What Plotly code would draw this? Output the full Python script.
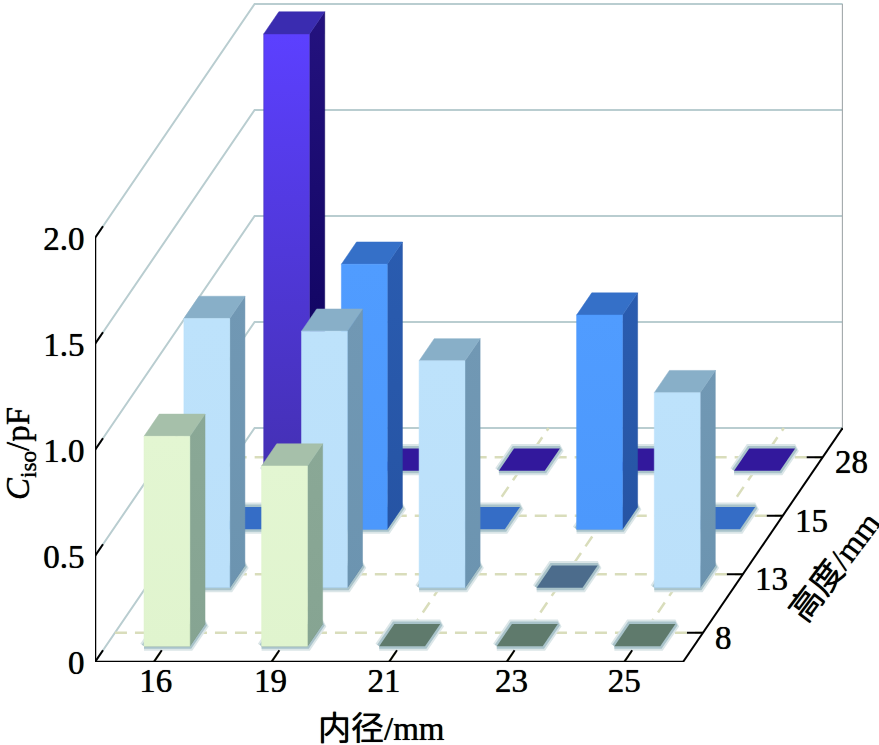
import plotly.graph_objects as go

# ---- data -------------------------------------------------------------
diameters = ["16", "19", "21", "23", "25"]        # 内径/mm
heights = ["8", "13", "15", "28"]                 # 高度/mm (front to back)
c_h8 = [0.99, 0.85, 0.0, 0.0, 0.0]
c_h13 = [1.27, 1.21, 1.07, 0.0, 0.92]
c_h15 = [0.0, 1.25, 0.0, 1.01, 0.0]
c_h28 = [2.06, 0.0, 0.0, 0.0, 0.0]
rows = [c_h8, c_h13, c_h15, c_h28]
y_ticks = [0, 0.5, 1.0, 1.5, 2.0]
y_labels = ["0", "0.5", "1.0", "1.5", "2.0"]

# ---- styles per row: front gradient, side gradient, top, flat ----------
styles = [
    dict(front=("#e0f4ce", "#e3f6d2"), side=("#86a492", "#8aa896"), top="#a6c0aa", flat="#5f7a6c"),
    dict(front=("#bbe0fa", "#bde2fb"), side=("#6c94b0", "#7198b4"), top="#88afc8", flat="#4c6c8c"),
    dict(front=("#4c98fc", "#509cff"), side=("#2654a4", "#2a5cb0"), top="#3570c8", flat="#356dc6"),
    dict(front=("#4430b4", "#5c40ff"), side=("#0a0058", "#24127f"), top="#3a2cb0", flat="#32189c"),
]

# ---- oblique projection (data units of the 2D axes) --------------------
PX_C, PX_V = 117.6, 212.0
DX, DY = 39.9 / PX_C, 58.5 / PX_V
BW, BD = 0.39, 0.38            # bar width and depth fractions
SHIFT_C, SHIFT_D = 0.02, -0.04
VMAX = 2.0
GRID = "#b9cdd0"
DASH = "#d9ddbb"
HALO = "#a9c3ca"
HALO2 = "#dbe6e8"
FONT = "Liberation Serif, Noto Sans CJK SC, serif"
SHADOW = "0 0 0.7px #000"
BLACK = dict(family=FONT, size=33, color="#000", shadow=SHADOW)
W, H, L, R_EDGE, B_EDGE = 879, 745, 95, 843, 662


def P(c, d, v=0.0):
    return c + d * DX, v + d * DY


fig = go.Figure()


def line(pts, color, width, dash=None):
    fig.add_trace(go.Scatter(x=[p[0] for p in pts], y=[p[1] for p in pts], mode="lines",
                             line=dict(color=color, width=width, dash=dash),
                             hoverinfo="skip", showlegend=False, cliponaxis=False))


def poly(pts, color=None, grad=None, lw=0.0, lc=None):
    xs = [p[0] for p in pts] + [pts[0][0]]
    ys = [p[1] for p in pts] + [pts[0][1]]
    kw = dict(fillcolor=color) if color else dict(
        fillgradient=dict(type="vertical", colorscale=[[0, grad[0]], [1, grad[1]]]))
    fig.add_trace(go.Scatter(x=xs, y=ys, mode="lines", fill="toself",
                             line=dict(width=lw, color=lc or color or grad[0]),
                             hoverinfo="skip", showlegend=False, cliponaxis=False, **kw))


# walls
for v in y_ticks:
    line([P(0, 0, v), P(0, 4, v), P(5, 4, v)], GRID, 2)
line([P(5, 4, 0), P(5, 4, VMAX)], "#a6acae", 1.5)

# floor dashed grid
for d in range(len(heights)):
    line([P(0, d + 0.5), P(5, d + 0.5)], DASH, 2.5, "12px,8px")
for c in range(len(diameters)):
    line([P(c + 0.5, 0), P(c + 0.5, 4)], DASH, 2.5, "12px,8px")

# bars, back row first
for d in reversed(range(len(heights))):
    st = styles[d]
    for c in range(len(diameters)):
        v = rows[d][c]
        c0 = c + 0.5 - BW / 2 + SHIFT_C
        c1 = c0 + BW
        d0 = d + 0.5 - BD / 2 + SHIFT_D
        d1 = d0 + BD
        foot = [P(c0, d0), P(c1, d0), P(c1, d1), P(c0, d1)]
        poly(foot, color=st["flat"], lw=9, lc=HALO2)
        poly(foot, color=st["flat"], lw=5, lc=HALO)
        poly(foot, color=st["flat"])
        if v > 0:
            poly([P(c1, d0), P(c1, d1), P(c1, d1, v), P(c1, d0, v)], grad=st["side"], lw=0.5)
            poly([P(c0, d0, v), P(c1, d0, v), P(c1, d1, v), P(c0, d1, v)], color=st["top"], lw=0.5)
            poly([P(c0, d0), P(c1, d0), P(c1, d0, v), P(c0, d0, v)], grad=st["front"], lw=0.5)

# black axes and ticks
TICK = 0.2
line([P(0, 0, 0), P(0, 0, VMAX)], "#000000", 2.5)
line([P(0, 0), P(5, 0)], "#000000", 2.5)
line([P(5, 0), P(5, 4)], "#000000", 2)
for v in y_ticks:
    line([P(0, 0, v), P(0, TICK, v)], "#000000", 2)
for c in range(len(diameters)):
    line([P(c + 0.5, 0), P(c + 0.5, TICK)], "#000000", 2)
for d in range(len(heights)):
    a = P(5, d + 0.5)
    line([a, (a[0] - 16 / PX_C, a[1])], "#000000", 2)


def paper(px, py):
    return dict(xref="paper", yref="paper", x=(px - L) / (R_EDGE - L), y=(B_EDGE - py) / B_EDGE,
                xanchor="center", yanchor="middle", showarrow=False)


# labels
ann = []
for d, h in enumerate(heights):
    a = P(5, d + 0.5)
    ann.append(dict(x=a[0], y=a[1], text=h, showarrow=False, xanchor="left", yanchor="middle",
                    xshift=10, yshift=-5, font=BLACK))
ann.append(dict(**paper(835, 567), text="高度/mm", textangle=-53, font=BLACK))
ann.append(dict(**paper(381, 729), text="内径/mm", font=BLACK))
ann.append(dict(**paper(21, 454), text="<i>C</i><sub>iso</sub>/pF", textangle=-90, font=BLACK))

label_nudge = [2, -1, -5, 5, 0]
fig.update_layout(
    width=W, height=H, autosize=False,
    margin=dict(l=L, r=W - R_EDGE, t=0, b=H - B_EDGE, pad=0),
    paper_bgcolor="white", plot_bgcolor="white", showlegend=False, annotations=ann,
    xaxis=dict(range=[0, (R_EDGE - L) / PX_C], showgrid=False, zeroline=False, showline=False,
               tickmode="array", tickvals=[i + 0.5 + label_nudge[i] / PX_C for i in range(5)],
               ticktext=diameters, ticks="", ticklabelstandoff=-4, tickfont=BLACK),
    yaxis=dict(range=[0, B_EDGE / PX_V], showgrid=False, zeroline=False, showline=False,
               tickmode="array", tickvals=y_ticks, ticktext=y_labels, ticks="outside", ticklen=3,
               tickcolor="rgba(0,0,0,0)", tickfont=BLACK),
)
fig.write_html("out.html", config=dict(displayModeBar=False),
               post_script="document.body.style.margin='0';document.documentElement.style.overflow='hidden';")
